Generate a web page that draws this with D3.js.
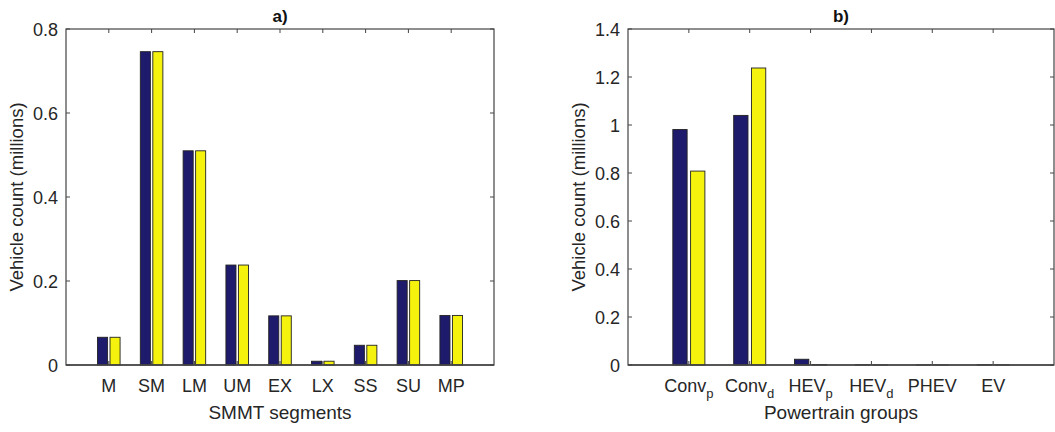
<!DOCTYPE html>
<html>
<head>
<meta charset="utf-8">
<script src="https://cdn.jsdelivr.net/npm/d3@7"></script>
<style>
  html, body { margin: 0; padding: 0; background: #fff; }
  svg { display: block; font-family: "Liberation Sans", Arial, Helvetica, sans-serif; }
</style>
</head>
<body>
<svg id="chart" width="1055" height="432"></svg>
<script>
// ---- Data ----
const segCategories = ["M", "SM", "LM", "UM", "EX", "LX", "SS", "SU", "MP"];
const segSeries1 = [0.066, 0.746, 0.510, 0.238, 0.117, 0.009, 0.047, 0.201, 0.118];
const segSeries2 = [0.066, 0.746, 0.510, 0.238, 0.117, 0.009, 0.047, 0.201, 0.118];
const segYTicks = [0, 0.2, 0.4, 0.6, 0.8];

const ptCategories = [["Conv", "p"], ["Conv", "d"], ["HEV", "p"], ["HEV", "d"], ["PHEV", ""], ["EV", ""]];
const ptSeries1 = [0.981, 1.040, 0.024, 0.001, 0.0005, 0.001];
const ptSeries2 = [0.808, 1.2375, 0.002, 0.0005, 0.0003, 0.0005];
const ptYTicks = [0, 0.2, 0.4, 0.6, 0.8, 1, 1.2, 1.4];

const colors = ["#1f1b6c", "#f5f20e"];

const svg = d3.select("#chart");

function panel(opts) {
  const { left, right, top, bottom, cats, s1, s2, yMax, yTicks, title, xLabel } = opts;
  const n = cats.length;
  const x = d3.scaleLinear().domain([0, n + 1]).range([left, right]);
  const y = d3.scaleLinear().domain([0, yMax]).range([bottom, top]);
  const g = svg.append("g");
  const unit = x(1) - x(0);
  const barW = 0.235 * unit;
  const off = 0.146 * unit;
  const series = [s1, s2];

  series.forEach((s, si) => {
    g.selectAll(null).data(s).enter().append("rect")
      .attr("x", (d, i) => x(i + 1) + (si === 0 ? -off : off) - barW / 2)
      .attr("y", d => y(d))
      .attr("width", barW)
      .attr("height", d => Math.max(0, y(0) - y(d)))
      .attr("fill", colors[si])
      .attr("stroke", "#222")
      .attr("stroke-width", 0.9);
  });

  // baseline
  g.append("line").attr("x1", left).attr("x2", right).attr("y1", y(0)).attr("y2", y(0))
    .attr("stroke", "#444").attr("stroke-width", 1.3);

  const tickLen = 4;
  const axisColor = "#444";
  // box
  g.append("rect").attr("x", left).attr("y", top).attr("width", right - left).attr("height", bottom - top)
    .attr("fill", "none").attr("stroke", axisColor).attr("stroke-width", 1.2);

  // y ticks (left and right, inward)
  yTicks.forEach(t => {
    g.append("line").attr("x1", left).attr("x2", left + tickLen).attr("y1", y(t)).attr("y2", y(t))
      .attr("stroke", axisColor).attr("stroke-width", 1);
    g.append("line").attr("x1", right).attr("x2", right - tickLen).attr("y1", y(t)).attr("y2", y(t))
      .attr("stroke", axisColor).attr("stroke-width", 1);
    g.append("text").attr("x", left - 8).attr("y", y(t) + 6.5)
      .attr("text-anchor", "end").attr("font-size", 18).attr("fill", "#262626")
      .text(d3.format("~g")(t));
  });

  // x ticks (top and bottom, inward)
  cats.forEach((c, i) => {
    const cx = x(i + 1);
    g.append("line").attr("x1", cx).attr("x2", cx).attr("y1", bottom).attr("y2", bottom - tickLen)
      .attr("stroke", axisColor).attr("stroke-width", 1);
    g.append("line").attr("x1", cx).attr("x2", cx).attr("y1", top).attr("y2", top + tickLen)
      .attr("stroke", axisColor).attr("stroke-width", 1);
    const txt = g.append("text").attr("x", cx).attr("y", bottom + 27)
      .attr("text-anchor", "middle").attr("font-size", 18).attr("fill", "#262626");
    if (Array.isArray(c)) {
      txt.append("tspan").text(c[0]);
      if (c[1]) txt.append("tspan").attr("dy", 6).attr("font-size", 13).text(c[1]);
    } else {
      txt.text(c);
    }
  });

  // title
  g.append("text").attr("x", (left + right) / 2).attr("y", 22)
    .attr("text-anchor", "middle").attr("font-size", 17).attr("font-weight", "bold").attr("fill", "#111")
    .text(title);
  // x label
  g.append("text").attr("x", (left + right) / 2).attr("y", 419)
    .attr("text-anchor", "middle").attr("font-size", 19).attr("fill", "#262626")
    .text(xLabel);
  // y label
  g.append("text").attr("transform", `translate(${left - 43},${(top + bottom) / 2}) rotate(-90)`)
    .attr("text-anchor", "middle").attr("font-size", 18.5).attr("fill", "#262626")
    .text("Vehicle count (millions)");
}

panel({ left: 66, right: 494, top: 29, bottom: 365, cats: segCategories, s1: segSeries1, s2: segSeries2,
  yMax: 0.8, yTicks: segYTicks, title: "a)", xLabel: "SMMT segments" });
panel({ left: 628, right: 1054, top: 29, bottom: 365, cats: ptCategories, s1: ptSeries1, s2: ptSeries2,
  yMax: 1.4, yTicks: ptYTicks, title: "b)", xLabel: "Powertrain groups" });
</script>
</body>
</html>
